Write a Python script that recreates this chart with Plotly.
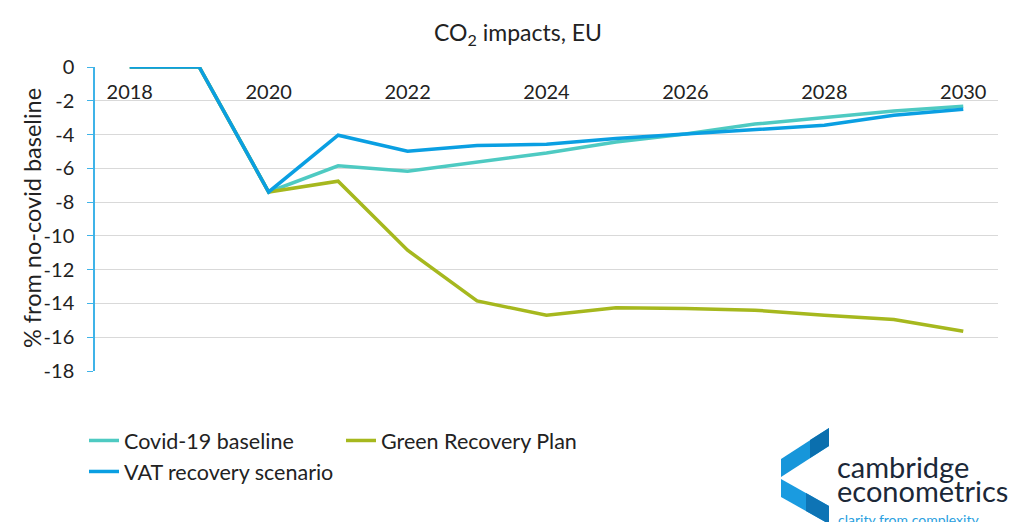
import plotly.graph_objects as go

years = list(range(2018, 2031))
covid_baseline = [0, 0, -7.4, -5.85, -6.17, -5.62, -5.09, -4.44, -3.97, -3.38, -3.0, -2.6, -2.32]
vat_recovery = [0, 0, -7.4, -4.04, -4.99, -4.65, -4.57, -4.24, -3.97, -3.7, -3.45, -2.86, -2.5]
green_recovery = [0, 0, -7.4, -6.76, -10.85, -13.85, -14.7, -14.26, -14.3, -14.4, -14.7, -14.95, -15.65]
x_ticks = [2018, 2020, 2022, 2024, 2026, 2028, 2030]
y_ticks = [0, -2, -4, -6, -8, -10, -12, -14, -16, -18]

FONT = "Lato"
TXT = "#222222"
OFF = 8  # page body margin
WIN_W, WIN_H = 1027, 522
FIG_W, FIG_H = WIN_W - OFF, WIN_H - OFF
# plot area in window pixels
L, R, T, B = 95, 998, 67, 371


def px(x):
    return (x - L) / (R - L)


def py(y):
    return (B - y) / (B - T)


fig = go.Figure()
fig.add_trace(go.Scatter(x=years, y=covid_baseline, mode="lines", name="Covid-19 baseline",
                         line=dict(color="#4ECAC2", width=3.5), legend="legend"))
fig.add_trace(go.Scatter(x=years, y=green_recovery, mode="lines", name="Green Recovery Plan",
                         line=dict(color="#A6B81E", width=3.5), legend="legend"))
fig.add_trace(go.Scatter(x=years, y=vat_recovery, mode="lines", name="VAT recovery scenario",
                         line=dict(color="#0A9FE2", width=3.5), legend="legend2"))


def poly(pts):
    return "M " + " L ".join(f"{px(a):.5f},{py(b):.5f}" for a, b in pts) + " Z"


shapes = [
    dict(type="path", xref="paper", yref="paper", path=poly([(829, 428), (781, 459), (781, 477), (829, 446)]),
         fillcolor="#1796DA", line=dict(width=0)),
    dict(type="path", xref="paper", yref="paper", path=poly([(829, 428), (810, 440), (810, 458), (829, 446)]),
         fillcolor="#0B6FAE", line=dict(width=0)),
    dict(type="path", xref="paper", yref="paper", path=poly([(781, 479), (829, 506), (829, 524), (781, 497)]),
         fillcolor="#1A9BE0", line=dict(width=0)),
    dict(type="path", xref="paper", yref="paper", path=poly([(806, 493), (829, 506), (829, 524), (806, 511)]),
         fillcolor="#0E74B5", line=dict(width=0)),
]

annotations = [
    dict(text="% from no-covid baseline", x=px(32), y=py(218), xref="paper", yref="paper",
         xanchor="center", yanchor="middle", textangle=-90, showarrow=False,
         font=dict(family=FONT, size=23.5, color=TXT)),
    dict(text="cambridge", x=px(835), y=py(466), xref="paper", yref="paper", xanchor="left", yanchor="middle",
         showarrow=False, font=dict(family=FONT, size=29, color="#1B2838")),
    dict(text="econometrics", x=px(835), y=py(490), xref="paper", yref="paper", xanchor="left", yanchor="middle",
         showarrow=False, font=dict(family=FONT, size=29, color="#1B2838")),
    dict(text="clarity from complexity", x=px(836), y=py(519), xref="paper", yref="paper", xanchor="left",
         yanchor="middle", showarrow=False, font=dict(family=FONT, size=14, color="#2A9FE0")),
]

fig.update_layout(
    width=FIG_W, height=FIG_H,
    margin=dict(l=L - OFF, r=WIN_W - R, t=T - OFF, b=WIN_H - B),
    paper_bgcolor="white", plot_bgcolor="white",
    font=dict(family=FONT, color=TXT, size=19),
    title=dict(text="CO<sub>2</sub> impacts, EU", x=(518 - OFF) / FIG_W, xanchor="center",
               y=1 - (33 - OFF) / FIG_H, yanchor="middle",
               font=dict(family=FONT, size=23, color=TXT)),
    xaxis=dict(range=[2017.5, 2030.5], tickvals=x_ticks, ticktext=[str(v) for v in x_ticks],
               showgrid=False, zeroline=False, showline=False, ticks="",
               anchor="free", position=1, side="bottom", ticklabelstandoff=11,
               tickfont=dict(family=FONT, size=20, color=TXT)),
    yaxis=dict(range=[-18, 0], tickvals=y_ticks, ticktext=[str(v) for v in y_ticks],
               showgrid=True, gridcolor="#D9D9D9", gridwidth=1,
               zeroline=False, showline=True, linecolor="#3FB3E8", linewidth=1.5,
               ticks="outside", ticklen=6, tickcolor="#3FB3E8", ticklabelstandoff=9,
               tickfont=dict(family=FONT, size=20, color=TXT)),
    legend=dict(orientation="h", x=px(84), y=py(420), xanchor="left", yanchor="top",
                entrywidth=212, entrywidthmode="pixels", itemwidth=30,
                font=dict(family=FONT, size=21.5, color=TXT), bgcolor="rgba(0,0,0,0)"),
    legend2=dict(orientation="h", x=px(84), y=py(451), xanchor="left", yanchor="top", itemwidth=30,
                 font=dict(family=FONT, size=21.5, color=TXT), bgcolor="rgba(0,0,0,0)"),
    shapes=shapes,
    annotations=annotations,
)

fig.write_html("out.html")
